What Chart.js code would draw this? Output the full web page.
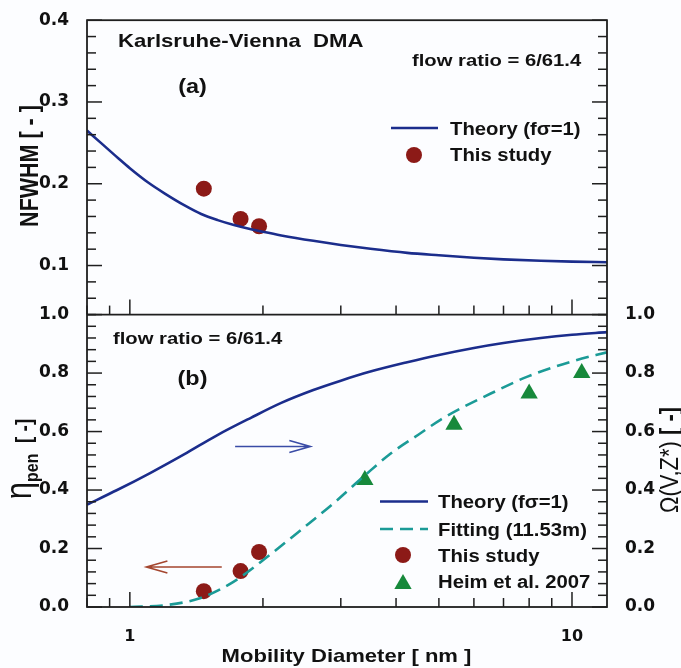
<!DOCTYPE html>
<html><head><meta charset="utf-8">
<script src="https://cdn.jsdelivr.net/npm/chart.js@4/dist/chart.umd.min.js"></script>
<style>html,body{margin:0;padding:0;background:#fcfdff;}canvas{display:block;}</style>
</head><body>
<canvas id="c" width="681" height="668"></canvas>
<script>
// ---------- data ----------
const theoryNfwhmX = [0.8,0.86,0.94,1.0,1.1,1.2,1.33,1.45,1.58,1.72,1.88,2.0,2.2,2.6,3.0,3.5,4.24,5.0,6.0,7.0,8.5,10,12];
const theoryNfwhmY = [0.265,0.250,0.2315,0.219,0.2015,0.188,0.1735,0.163,0.1555,0.1495,0.1443,0.1412,0.1368,0.1302,0.1252,0.1205,0.1155,0.1125,0.1095,0.1075,0.1058,0.1048,0.104];
const studyX = [1.47,1.78,1.96];
const studyNfwhm = [0.194,0.157,0.148];
const theoryOmegaX = [0.8,0.936,1.114,1.326,1.578,1.878,2.2,2.6,3.0,3.5,4.24,5.0,6.0,7.0,8.5,10,12];
const theoryOmegaY = [0.35,0.40,0.459,0.522,0.588,0.647,0.698,0.742,0.774,0.805,0.837,0.862,0.886,0.903,0.920,0.931,0.940];
const fitX = [1.0,1.2,1.44,1.715,2.04,2.43,2.89,3.4,3.89,4.5,5.05,5.7,6.55,7.93,10.1,12];
const fitY = [0.0,0.006,0.03,0.086,0.17,0.262,0.355,0.45,0.525,0.59,0.641,0.685,0.730,0.788,0.842,0.871];
const studyPen = [0.054,0.123,0.188];
const heimX = [3.40,5.41,8.0,10.52];
const heimY = [0.434,0.623,0.730,0.800];
const xTickValues = [0.8,0.9,1,2,3,4,5,6,7,8,9,10];
const xTickLabels = {1:'1',10:'10'};
const yTopTickLabels = [0.1,0.2,0.3,0.4];
const yBotTickLabels = [0,0.2,0.4,0.6,0.8,1.0];
// arrows in data units: [tail x, tip x, y]
const omegaArrow = [1.73, 2.56, 0.549];
const penArrow = [1.614, 1.09, 0.137];

// ---------- helpers ----------
const pts = (xs, ys) => xs.map((x,i)=>({x, y: ys[i]}));
const range = (a,b,s) => { const r=[]; const n=Math.round((b-a)/s); for(let i=0;i<=n;i++) r.push(+(a+i*s).toFixed(4)); return r; };
const NAVY = '#1b2d8c', RED = '#8c1a17', GREEN = '#17893b', TEAL = '#1b9b97';
const SANS = '"Liberation Sans", Arial, sans-serif';
const TICKFONT = {family:'"DejaVu Sans", sans-serif', weight:'bold', size:17};
const hasLabel = (list, v) => list.some(l => Math.abs(l - v) < 1e-6);

function stext(ctx, str, x, y, font, sx, align, color){
  ctx.save(); ctx.font = font; ctx.fillStyle = color||'#111'; ctx.textAlign = align||'left'; ctx.textBaseline='alphabetic';
  ctx.translate(x,y); ctx.scale(sx,1); ctx.fillText(str,0,0); ctx.restore();
}
function rotRich(ctx, parts, bx, cy, sy){
  ctx.save(); ctx.translate(bx, cy); ctx.rotate(-Math.PI/2); ctx.scale(1, sy);
  ctx.fillStyle='#111'; ctx.textBaseline='alphabetic'; ctx.textAlign='left';
  let W=0; parts.forEach(p=>{ctx.font=p.font; p.w=ctx.measureText(p.t).width; W+=p.w;});
  let x=-W/2; parts.forEach(p=>{ctx.font=p.font; ctx.fillText(p.t, x, p.dy||0); x+=p.w;});
  ctx.restore();
}
function arrow(ctx, x0, x1, y, color){
  const dir = Math.sign(x1-x0);
  ctx.save(); ctx.strokeStyle=color; ctx.lineWidth=1.6;
  ctx.beginPath(); ctx.moveTo(x0,y); ctx.lineTo(x1,y);
  ctx.moveTo(x1-dir*21, y-6); ctx.lineTo(x1,y); ctx.lineTo(x1-dir*21, y+6); ctx.stroke(); ctx.restore();
}

const decor = {
  id:'decor',
  afterDraw(chart){
    const {ctx, chartArea:a, scales:s} = chart;
    const mid = s.yBot.getPixelForValue(s.yBot.max);
    ctx.save();
    ctx.strokeStyle='#1f1f1f'; ctx.lineWidth=1.5;
    const seg=(x0,y0,x1,y1)=>{ctx.beginPath();ctx.moveTo(x0,y0);ctx.lineTo(x1,y1);ctx.stroke();};
    const yt = (scale, majorStep, xEdge, dir) => scale.ticks.forEach(t=>{
      const v=t.value, p=scale.getPixelForValue(v);
      const maj = Math.abs(v/majorStep-Math.round(v/majorStep))<1e-6;
      seg(xEdge, p, xEdge+dir*(maj?15:9), p);
    });
    yt(s.yTop, 0.1, a.left, 1); yt(s.yBot, 0.2, a.left, 1);
    yt(s.yTopR, 0.1, a.right, -1); yt(s.yBotR, 0.2, a.right, -1);
    s.x.ticks.forEach(t=>{
      const p=s.x.getPixelForValue(t.value);
      const len = (t.value===1||t.value===10)?15:9;
      seg(p, a.bottom, p, a.bottom-len); seg(p, mid, p, mid-len);
    });
    ctx.lineWidth=1.8;
    ctx.strokeRect(a.left, a.top, a.right-a.left, a.bottom-a.top);
    seg(a.left, mid, a.right, mid);
    ctx.restore();

    const B = (sz)=>`bold ${sz}px ${SANS}`;
    stext(ctx,'Karlsruhe-Vienna  DMA',118,46.5,B(18.6),1.19);
    stext(ctx,'(a)',192.5,92.5,B(19.5),1.2,'center');
    stext(ctx,'flow ratio = 6/61.4',412,66,B(17),1.19);
    ctx.save(); ctx.strokeStyle=NAVY; ctx.lineWidth=2.6; seg(391,128,438,128); ctx.restore();
    stext(ctx,'Theory (f\u03C3=1)',450,134.5,B(17.5),1.16);
    ctx.save(); ctx.fillStyle=RED; ctx.beginPath(); ctx.arc(414,155,8,0,Math.PI*2); ctx.fill(); ctx.restore();
    stext(ctx,'This study',450,161,B(17.5),1.16);
    stext(ctx,'flow ratio = 6/61.4',113,343.5,B(17),1.19);
    stext(ctx,'(b)',192.5,385,B(19.5),1.2,'center');
    ctx.save(); ctx.strokeStyle=NAVY; ctx.lineWidth=2.6; seg(380,501.5,428,501.5);
    ctx.strokeStyle=TEAL; ctx.setLineDash([13,7]); seg(380,529,428,529); ctx.restore();
    stext(ctx,'Theory (f\u03C3=1)',438,508,B(17.5),1.16);
    stext(ctx,'Fitting (11.53m)',438,535.5,B(17.5),1.16);
    ctx.save(); ctx.fillStyle=RED; ctx.beginPath(); ctx.arc(403,555,8,0,Math.PI*2); ctx.fill();
    ctx.fillStyle=GREEN; ctx.beginPath(); const r=10, cy=584;
    ctx.moveTo(403,cy-r); ctx.lineTo(403+r*0.866,cy+r/2); ctx.lineTo(403-r*0.866,cy+r/2); ctx.closePath(); ctx.fill(); ctx.restore();
    stext(ctx,'This study',438,561.5,B(17.5),1.16);
    stext(ctx,'Heim et al. 2007',438,588,B(17.5),1.16);
    arrow(ctx, s.x.getPixelForValue(omegaArrow[0]), s.x.getPixelForValue(omegaArrow[1]), s.yBotR.getPixelForValue(omegaArrow[2]), '#3a4ca6');
    arrow(ctx, s.x.getPixelForValue(penArrow[0]), s.x.getPixelForValue(penArrow[1]), s.yBot.getPixelForValue(penArrow[2]), '#a4462f');
    rotRich(ctx,[{t:'NFWHM [ - ]',font:B(21.5)}],37.5,166,1.2);
    rotRich(ctx,[{t:'\u03B7',font:`31px ${SANS}`},{t:'pen',font:`bold 16px ${SANS}`,dy:6},{t:'  [ -]',font:B(19)}],31,459,1.2);
    rotRich(ctx,[{t:'\u03A9(V,Z*)',font:`22px ${SANS}`},{t:' [ -]',font:B(22)}],678,460,1.2);
    stext(ctx,'Mobility Diameter [ nm ]',346.5,662,B(19),1.16,'center');
  }
};

new Chart(document.getElementById('c'), {
  type:'scatter',
  data:{ datasets:[
    {data:pts(theoryNfwhmX,theoryNfwhmY), yAxisID:'yTop', showLine:true, borderColor:NAVY, borderWidth:2.6, pointRadius:0, cubicInterpolationMode:'monotone'},
    {data:pts(studyX,studyNfwhm), yAxisID:'yTop', pointRadius:8, pointBackgroundColor:RED, pointBorderColor:RED, pointBorderWidth:0},
    {data:pts(theoryOmegaX,theoryOmegaY), yAxisID:'yBotR', showLine:true, borderColor:NAVY, borderWidth:2.6, pointRadius:0, cubicInterpolationMode:'monotone'},
    {data:pts(fitX,fitY), yAxisID:'yBot', showLine:true, borderColor:TEAL, borderWidth:2.6, borderDash:[13,7], pointRadius:0, cubicInterpolationMode:'monotone'},
    {data:pts(studyX,studyPen), yAxisID:'yBot', pointRadius:8, pointBackgroundColor:RED, pointBorderColor:RED, pointBorderWidth:0},
    {data:pts(heimX,heimY), yAxisID:'yBot', pointStyle:'triangle', pointRadius:10, pointBackgroundColor:GREEN, pointBorderColor:GREEN, pointBorderWidth:0}
  ]},
  options:{
    responsive:false, animation:false, devicePixelRatio:1,
    layout:{padding:{top:15,left:0,right:0,bottom:0}},
    plugins:{legend:{display:false}, tooltip:{enabled:false}},
    scales:{
      x:{type:'logarithmic', position:'bottom', min:0.8, max:12,
        afterBuildTicks:(sc)=>{sc.ticks = xTickValues.map(v=>({value:v}));},
        afterFit:(sc)=>{sc.height=61;},
        grid:{display:false}, border:{display:false},
        ticks:{autoSkip:false, maxRotation:0, padding:12, font:{family:'"DejaVu Sans", sans-serif', weight:'bold', size:16}, color:'#111',
          callback:(v)=> xTickLabels[v] || ''}},
      yBot:{type:'linear', position:'left', stack:'L', stackWeight:295, min:0, max:1,
        afterBuildTicks:(sc)=>{sc.ticks = range(0,1,0.04).map(v=>({value:v}));},
        afterFit:(sc)=>{sc.width=87;}, grid:{display:false}, border:{display:false},
        ticks:{autoSkip:false, font:TICKFONT, color:'#111', padding:10, callback:(v)=> hasLabel(yBotTickLabels,v) ? (+v).toFixed(1) : ''}},
      yTop:{type:'linear', position:'left', stack:'L', stackWeight:297, min:0.04, max:0.4,
        afterBuildTicks:(sc)=>{sc.ticks = range(0.04,0.4,0.02).map(v=>({value:v}));},
        afterFit:(sc)=>{sc.width=87;}, grid:{display:false}, border:{display:false},
        ticks:{autoSkip:false, font:TICKFONT, color:'#111', padding:10, callback:(v)=> hasLabel(yTopTickLabels,v) ? (+v).toFixed(1) : ''}},
      yTopR:{type:'linear', position:'right', stack:'R', stackWeight:297, min:0.04, max:0.4,
        afterBuildTicks:(sc)=>{sc.ticks = range(0.04,0.4,0.02).map(v=>({value:v}));},
        afterFit:(sc)=>{sc.width=74;}, grid:{display:false}, border:{display:false}, ticks:{display:false}},
      yBotR:{type:'linear', position:'right', stack:'R', stackWeight:295, min:0, max:1,
        afterBuildTicks:(sc)=>{sc.ticks = range(0,1,0.04).map(v=>({value:v}));},
        afterFit:(sc)=>{sc.width=74;}, grid:{display:false}, border:{display:false},
        ticks:{autoSkip:false, font:TICKFONT, color:'#111', padding:10, callback:(v)=> hasLabel(yBotTickLabels,v) ? (+v).toFixed(1) : ''}}
    }
  },
  plugins:[decor]
});
</script>
</body></html>
